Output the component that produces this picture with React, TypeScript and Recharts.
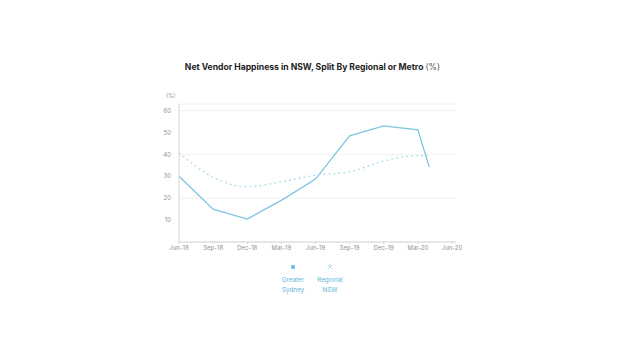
import { CartesianGrid, Legend, Line, LineChart, XAxis, YAxis } from 'recharts';

// months since Jun-18, quarterly plus the partial Apr-20 reading
const months = [0, 3, 6, 9, 12, 15, 18, 21, 22];
const greaterSydney = [30, 15, 10.5, 19, 28.7, 48.5, 53, 51.2, 34.2];
const regionalNsw = [40.7, 29.5, 25.2, 27.5, 30.5, 32, 37, 39.4, 39.4];

const tickMonths = [0, 3, 6, 9, 12, 15, 18, 21, 24];
const tickLabels = ['Jun-18', 'Sep-18', 'Dec-18', 'Mar-19', 'Jun-19', 'Sep-19', 'Dec-19', 'Mar-20', 'Jun-20'];
const yTicks = [10, 20, 30, 40, 50, 60];

const SOLID = '#7cc6e0';
const DOTTED = '#a9d9ea';
const FONT = 'Inter, "Noto Sans", sans-serif';
const AXIS = { fontSize: 6, fill: '#909090', fontFamily: FONT };

const data = months.map((m, i) => ({ m, sydney: greaterSydney[i], regional: regionalNsw[i] }));

function LegendBox() {
  const items = [
    { label: ['Greater', 'Sydney'], mark: 'dot' },
    { label: ['Regional', 'NSW'], mark: 'x' },
  ];
  return (
    <div style={{ display: 'flex', gap: 13, fontFamily: FONT, fontSize: 6.3, color: '#5db6d9' }}>
      {items.map((it) => (
        <div key={it.label[0]} style={{ display: 'flex', flexDirection: 'column', alignItems: 'center', width: 24 }}>
          <svg width="6" height="6" style={{ marginBottom: 5 }}>
            {it.mark === 'dot' ? (
              <circle cx="3" cy="3" r="2.2" fill="#74c1df" />
            ) : (
              <path d="M1 1 L5 5 M5 1 L1 5 M3 0 L3 1.5" stroke={DOTTED} strokeWidth="0.9" />
            )}
          </svg>
          <span style={{ lineHeight: '10px' }}>{it.label[0]}</span>
          <span style={{ lineHeight: '10px' }}>{it.label[1]}</span>
        </div>
      ))}
    </div>
  );
}

export default function App() {
  return (
    <div style={{ position: 'absolute', left: 0, top: 0, width: 625, height: 352, background: '#fff' }}>
      <div
        style={{
          position: 'absolute',
          top: 62,
          width: 625,
          textAlign: 'center',
          fontFamily: FONT,
          fontSize: 8.6,
          fontWeight: 700,
          color: '#222',
        }}
      >
        Net Vendor Happiness in NSW, Split By Regional or Metro{' '}
        <span style={{ fontWeight: 400, color: '#555' }}>(%)</span>
      </div>
      <div style={{ position: 'absolute', left: 166, top: 93, fontFamily: FONT, fontSize: 5.5, color: '#909090' }}>
        (%)
      </div>
      <LineChart
        width={625}
        height={352}
        data={data}
        margin={{ top: 104, right: 169, bottom: 90, left: 159 }}
      >
        <CartesianGrid vertical={false} stroke="#f1f1f1" />
        <XAxis
          dataKey="m"
          type="number"
          domain={[0, 24]}
          ticks={tickMonths}
          tickFormatter={(v) => tickLabels[tickMonths.indexOf(v)]}
          tick={AXIS}
          tickSize={2}
          stroke="#d6d6d6"
          padding={{ left: 0, right: 4 }}
          height={20}
        />
        <YAxis
          type="number"
          domain={[0, 63]}
          ticks={yTicks}
          tick={AXIS}
          axisLine={{ stroke: '#d6d6d6' }}
          tickLine={false}
          width={20}
        />
        <Legend
          layout="horizontal"
          verticalAlign="middle"
          align="center"
          content={<LegendBox />}
          wrapperStyle={{ position: 'absolute', left: 281, top: 264, width: 'auto' }}
        />
        <Line
          dataKey="sydney"
          stroke={SOLID}
          strokeWidth={1.3}
          dot={false}
          isAnimationActive={false}
        />
        <Line
          dataKey="regional"
          type="monotone"
          stroke={DOTTED}
          strokeWidth={1.2}
          strokeDasharray="2 3"
          dot={false}
          isAnimationActive={false}
        />
      </LineChart>
    </div>
  );
}
